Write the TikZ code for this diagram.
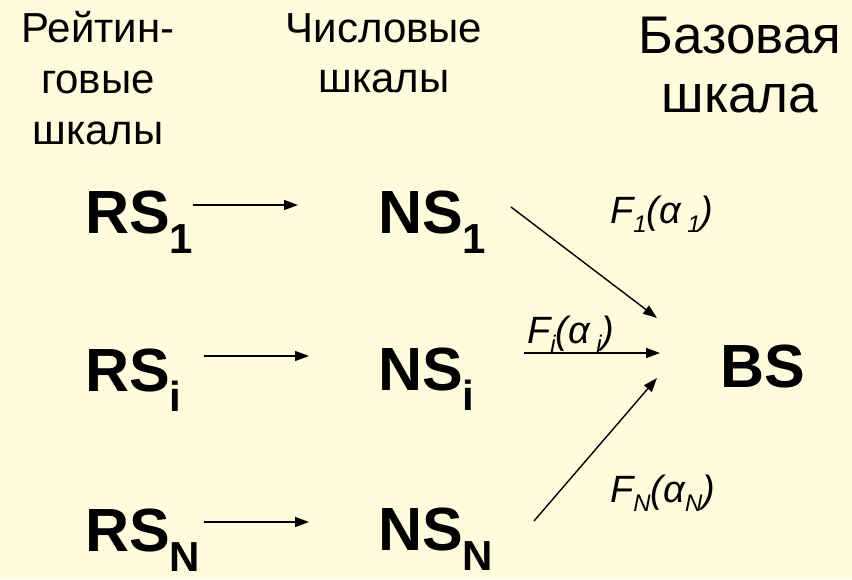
\documentclass[tikz,border=0pt]{standalone}
\usepackage{fontspec}
\setmainfont{Liberation Sans}
\usetikzlibrary{arrows.meta,calc}
\definecolor{bg}{RGB}{255,251,221}
\newcommand{\bigsub}[2]{#1\raisebox{-20pt}{\fontsize{42}{42}\selectfont #2}}
\newcommand{\fsub}[1]{\raisebox{-9pt}{\fontsize{24}{24}\selectfont #1}}
\begin{document}
\begin{tikzpicture}[x=1pt,y=-1pt,
  hdr/.style={inner sep=0,anchor=base,font=\fontsize{42}{50}\selectfont},
  hdrbig/.style={inner sep=0,anchor=base,font=\fontsize{53}{59}\selectfont},
  lbl/.style={inner sep=0,anchor=base west,font=\fontsize{61}{61}\selectfont\bfseries},
  flbl/.style={inner sep=0,anchor=base west,font=\fontsize{38}{38}\selectfont\itshape},
  arr/.style={line width=1.4pt,-{Triangle[length=14pt,width=10pt]}}]
\fill[bg] (0,0) rectangle (852,579);
\useasboundingbox (0,0) rectangle (852,579);
% headers
\node[hdr] (h1a) at (98,42) {Рейтин-};
\node[hdr] (h1b) at (98,93) {говые};
\node[hdr] (h1c) at (98,144) {шкалы};
\node[hdr] (h2a) at (384,42) {Числовые};
\node[hdr] (h2b) at (384,92) {шкалы};
\node[hdrbig] (h3a) at (740,53) {Базовая};
\node[hdrbig] (h3b) at (740,112) {шкала};
% main labels
\node[lbl] (rs1) at (85,233) {\bigsub{RS}{1}};
\node[lbl] (rsi) at (85,391) {\bigsub{RS}{i}};
\node[lbl] (rsn) at (85,551) {\bigsub{RS}{N}};
\node[lbl] (ns1) at (378,233) {\bigsub{NS}{1}};
\node[lbl] (nsi) at (378,390) {\bigsub{NS}{i}};
\node[lbl] (nsn) at (378,550) {\bigsub{NS}{N}};
\node[lbl] (bs) at (720,387) {BS};
% function labels
\node[flbl] (f1) at (610,223) {F\fsub{1}(α\,\fsub{1})};
\node[flbl] (fi) at (527,343) {F\fsub{i}(α\,\fsub{i})};
\node[flbl] (fn) at (610,502) {F\fsub{N}(α\fsub{N})};
% arrows
\draw[arr] ($(rs1.base west)+(108,-28)$) -- ($(ns1.base west)+(-80,-28)$);
\draw[arr] ($(rsi.base west)+(119,-35)$) -- ($(nsi.base west)+(-69,-34)$);
\draw[arr] ($(rsn.base west)+(119,-29)$) -- ($(nsn.base west)+(-69,-28)$);
\draw[arr] ($(ns1.base west)+(133,-26)$) -- ($(bs.base west)+(-63,-69)$);
\draw[arr] ($(nsi.base west)+(146,-37)$) -- ($(bs.base west)+(-60,-34)$);
\draw[arr] ($(nsn.base west)+(156,-29)$) -- ($(bs.base west)+(-63,-9)$);
\end{tikzpicture}
\end{document}
